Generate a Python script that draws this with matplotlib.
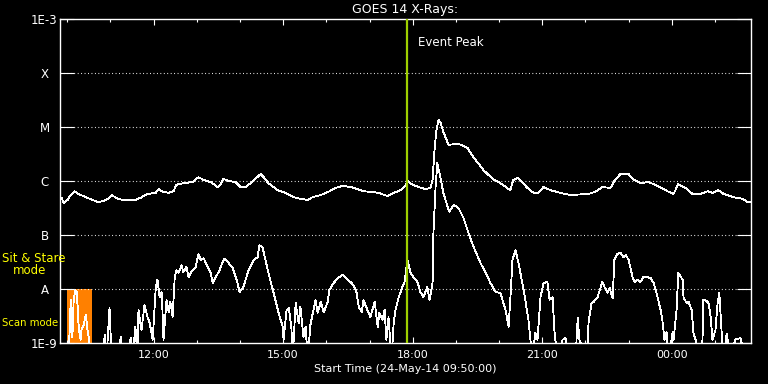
#!/usr/bin/env python3

import matplotlib
matplotlib.use("Agg")
import matplotlib.pyplot as plt
import numpy as np

# times in hours after 00:00 on 24-May-14 (values > 24 are 25-May)
long_t = [9.87, 9.92, 10.01, 10.08, 10.17, 10.26, 10.43, 10.59, 10.70, 10.84, 10.94, 11.03, 11.17, 11.28,
          11.58, 11.70, 11.86, 12.05, 12.12, 12.21, 12.35, 12.46, 12.53, 12.69, 12.90, 13.04, 13.16, 13.32,
          13.48, 13.55, 13.62, 13.74, 13.90, 14.01, 14.13, 14.25, 14.36, 14.48, 14.55, 14.66, 14.87, 15.06,
          15.24, 15.40, 15.57, 15.68, 15.87, 16.05, 16.21, 16.38, 16.56, 16.72, 16.86, 17.02, 17.21, 17.42,
          17.56, 17.72, 17.83, 17.88, 18.00, 18.13, 18.30, 18.41, 18.46, 18.51, 18.55, 18.60, 18.64, 18.71,
          18.83, 19.06, 19.27, 19.41, 19.64, 19.85, 20.03, 20.26, 20.33, 20.43, 20.50, 20.66, 20.80, 20.91,
          21.03, 21.19, 21.42, 21.65, 22.07, 22.23, 22.39, 22.58, 22.67, 22.81, 23.00, 23.09, 23.27, 23.46,
          23.67, 23.90, 24.04, 24.15, 24.32, 24.48, 24.66, 24.83, 24.94, 25.08, 25.20, 25.43, 25.64, 25.75, 25.82]
# log10 of flux (W/m^2), 1-8 A channel
long_log = [-6.31, -6.41, -6.35, -6.26, -6.19, -6.24, -6.30, -6.35, -6.39, -6.37, -6.33, -6.26, -6.33, -6.35,
            -6.35, -6.31, -6.24, -6.22, -6.15, -6.20, -6.22, -6.19, -6.07, -6.04, -6.02, -5.93, -5.98, -6.02,
            -6.11, -6.07, -5.96, -6.00, -6.02, -6.11, -6.11, -6.04, -5.96, -5.87, -5.93, -6.04, -6.17, -6.22,
            -6.30, -6.33, -6.35, -6.30, -6.26, -6.20, -6.13, -6.09, -6.11, -6.15, -6.19, -6.20, -6.22, -6.28,
            -6.22, -6.17, -6.09, -6.00, -6.07, -6.11, -6.15, -6.13, -5.98, -5.37, -5.06, -4.87, -4.91, -5.09,
            -5.33, -5.31, -5.39, -5.56, -5.80, -5.96, -6.04, -6.17, -5.98, -5.94, -6.00, -6.13, -6.22, -6.22,
            -6.11, -6.17, -6.22, -6.26, -6.24, -6.20, -6.11, -6.13, -6.00, -5.87, -5.87, -5.96, -6.04, -6.02,
            -6.09, -6.19, -6.24, -6.06, -6.13, -6.24, -6.24, -6.19, -6.22, -6.17, -6.24, -6.30, -6.33, -6.39, -6.39]

# 0.5-4 A channel, -9.3 means below the plot floor
short_t = [9.85, 10.01, 10.06, 10.08, 10.10, 10.12, 10.15, 10.17, 10.19, 10.22, 10.24, 10.26, 10.29, 10.31,
           10.33, 10.38, 10.43, 10.45, 10.47, 10.50, 10.54, 10.82, 10.87, 10.91, 10.98, 11.03, 11.17, 11.24,
           11.31, 11.40, 11.47, 11.51, 11.58, 11.63, 11.65, 11.72, 11.79, 11.86, 11.91, 11.98, 12.05, 12.09,
           12.14, 12.19, 12.23, 12.30, 12.35, 12.39, 12.44, 12.49, 12.53, 12.58, 12.65, 12.69, 12.76, 12.81,
           12.90, 12.97, 13.04, 13.09, 13.16, 13.25, 13.32, 13.37, 13.44, 13.53, 13.60, 13.64, 13.74, 13.83,
           13.94, 13.99, 14.08, 14.20, 14.32, 14.41, 14.45, 14.52, 14.59, 14.66, 14.75, 14.82, 14.89, 14.99,
           15.01, 15.08, 15.13, 15.19, 15.22, 15.29, 15.36, 15.40, 15.47, 15.52, 15.57, 15.63, 15.70, 15.75,
           15.80, 15.87, 15.94, 16.03, 16.07, 16.17, 16.26, 16.38, 16.49, 16.56, 16.63, 16.70, 16.75, 16.82,
           16.86, 16.95, 17.02, 17.12, 17.19, 17.23, 17.30, 17.35, 17.39, 17.44, 17.51, 17.56, 17.60, 17.67,
           17.76, 17.81, 17.88, 17.95, 18.02, 18.11, 18.18, 18.25, 18.34, 18.39, 18.46, 18.48, 18.53, 18.57,
           18.64, 18.71, 18.81, 18.85, 18.95, 19.06, 19.18, 19.29, 19.41, 19.57, 19.69, 19.80, 19.92, 20.03,
           20.15, 20.22, 20.26, 20.31, 20.38, 20.45, 20.57, 20.68, 20.77, 20.84, 20.89, 20.96, 21.03, 21.12,
           21.17, 21.24, 21.28, 21.35, 21.47, 21.54, 21.61, 21.77, 21.82, 21.86, 22.05, 22.07, 22.14, 22.19,
           22.28, 22.35, 22.39, 22.44, 22.51, 22.56, 22.63, 22.67, 22.74, 22.81, 22.88, 22.93, 23.00, 23.09,
           23.14, 23.20, 23.27, 23.34, 23.44, 23.51, 23.58, 23.67, 23.74, 23.78, 23.83, 23.88, 23.92, 24.02,
           24.04, 24.11, 24.15, 24.25, 24.27, 24.34, 24.39, 24.46, 24.50, 24.55, 24.62, 24.71, 24.73, 24.80,
           24.85, 24.90, 24.94, 25.01, 25.06, 25.10, 25.15, 25.20, 25.27, 25.36, 25.47, 25.59, 25.70, 25.82]
short_log = [-9.3, -9.3, -8.76, -8.20, -8.76, -8.89, -8.20, -8.11, -8.02, -8.06, -8.30, -8.63, -8.85, -8.94,
             -8.76, -8.67, -8.48, -8.61, -8.76, -8.91, -9.3, -9.3, -8.85, -9.3, -8.35, -9.3, -9.3, -8.89,
             -9.3, -9.3, -8.91, -9.3, -8.70, -9.3, -8.39, -8.76, -8.30, -8.52, -8.63, -8.94, -7.98, -7.83,
             -8.15, -8.06, -8.94, -8.20, -8.43, -8.24, -8.52, -7.78, -7.65, -7.70, -7.56, -7.69, -7.59, -7.78,
             -7.65, -7.61, -7.35, -7.46, -7.43, -7.59, -7.70, -7.89, -7.78, -7.65, -7.50, -7.44, -7.52, -7.61,
             -7.87, -8.06, -7.96, -7.65, -7.46, -7.41, -7.19, -7.22, -7.46, -7.70, -7.98, -8.20, -8.43, -8.70,
             -8.94, -8.39, -8.35, -8.70, -9.3, -8.26, -8.63, -8.33, -8.89, -8.70, -9.3, -8.67, -8.39, -8.20,
             -8.44, -8.24, -8.43, -8.24, -8.02, -7.89, -7.80, -7.74, -7.83, -7.87, -7.93, -8.06, -8.33, -8.43,
             -8.20, -8.39, -8.52, -8.24, -8.70, -8.44, -8.57, -8.39, -8.94, -8.52, -9.3, -8.63, -8.39, -8.17,
             -7.96, -7.87, -7.46, -7.70, -7.78, -7.87, -8.06, -8.15, -7.96, -8.20, -7.89, -6.96, -6.11, -5.67,
             -5.93, -6.22, -6.48, -6.57, -6.44, -6.50, -6.69, -6.96, -7.22, -7.52, -7.70, -7.89, -8.06, -8.07,
             -8.39, -8.70, -8.20, -7.46, -7.28, -7.52, -8.02, -8.57, -9.3, -8.81, -8.94, -8.15, -7.89, -7.87,
             -8.20, -8.15, -8.76, -9.3, -8.94, -8.91, -9.3, -9.3, -8.54, -8.94, -9.3, -8.63, -8.26, -8.24,
             -8.15, -7.98, -7.87, -7.96, -8.07, -7.98, -8.17, -7.46, -7.35, -7.33, -7.41, -7.37, -7.46, -7.78,
             -7.87, -7.83, -7.87, -7.78, -7.78, -7.80, -7.89, -8.15, -8.39, -8.57, -8.94, -8.80, -9.3, -8.80,
             -8.94, -8.39, -7.70, -7.83, -8.15, -8.26, -8.24, -8.39, -8.81, -8.94, -9.3, -8.94, -8.20, -8.22,
             -8.26, -8.52, -8.94, -8.76, -8.26, -8.07, -8.76, -9.3, -8.83, -9.3, -8.93, -8.91, -9.3, -9.3]

t_start = 9 + 50 / 60.0
t_end = t_start + 16
event_peak = 17 + 52 / 60.0
scan_start = 10.0
scan_end = 10 + 34 / 60.0

class_levels = [1e-3, 1e-4, 1e-5, 1e-6, 1e-7, 1e-8, 1e-9]
class_labels = ['1E-3', 'X', 'M', 'C', 'B', 'A', '1E-9']
time_ticks = [12, 15, 18, 21, 24]
time_labels = ['12:00', '15:00', '18:00', '21:00', '00:00']

plt.rcParams['font.family'] = 'DejaVu Sans'
plt.rcParams['font.size'] = 8

fig = plt.figure(figsize=(7.68, 3.84), dpi=100, facecolor='black')
ax = fig.add_axes([60 / 768, 41 / 384, 691 / 768, 324 / 384], facecolor='black')

# scan mode box
ax.fill_between([scan_start, scan_end], 1e-9, 1e-8, color='#ff8000', linewidth=0, zorder=1)

for lev in class_levels[1:-1]:
    ax.axhline(lev, color='white', linewidth=0.8, dashes=(0.8, 2.3), zorder=2)

ax.plot(long_t, 10 ** np.array(long_log), color='white', linewidth=0.6, antialiased=False, zorder=3)
ax.plot(short_t, 10 ** np.array(short_log), color='white', linewidth=0.6, antialiased=False, zorder=3)

ax.axvline(event_peak, color='#9fd000', linewidth=1.6, zorder=4)
ax.text(event_peak + 0.25, 10 ** -3.44, 'Event Peak', color='white', va='center', ha='left', fontsize=8.5)

ax.set_yscale('log')
ax.set_ylim(1e-9, 1e-3)
ax.set_xlim(t_start, t_end)

ax.set_yticks(class_levels)
ax.set_yticklabels(class_labels)
ax.yaxis.set_minor_locator(matplotlib.ticker.NullLocator())
ax.set_xticks(time_ticks)
ax.set_xticklabels(time_labels)
ax.set_xticks(np.arange(10, 26), minor=True)

ax.tick_params(axis='y', which='major', direction='in', length=10, width=0.8, left=True, right=True,
               colors='white', pad=11.2, labelsize=8.5)
ax.tick_params(axis='x', which='major', direction='in', length=4.3, width=0.8, top=True, bottom=True,
               colors='white', pad=5)
ax.tick_params(axis='x', which='minor', direction='in', length=2.2, width=0.8, top=True, bottom=True,
               colors='white')
for lbl in ax.get_yticklabels():
    lbl.set_ha('center')

for sp in ax.spines.values():
    sp.set_color('white')
    sp.set_linewidth(1.0)

fig.text(405.5 / 768, 1 - 10 / 384, 'GOES 14 X-Rays:', color='white', ha='center', va='center', fontsize=9)
fig.text(405.5 / 768, 1 - 369.5 / 384, 'Start Time (24-May-14 09:50:00)', color='white', ha='center', va='center')

fig.text(2 / 768, 1 - 259 / 384, 'Sit & Stare', color='yellow', ha='left', va='center', fontsize=8.5)
fig.text(13 / 768, 1 - 271 / 384, 'mode', color='yellow', ha='left', va='center', fontsize=8.5)
fig.text(2 / 768, 1 - 323 / 384, 'Scan mode', color='yellow', ha='left', va='center', fontsize=7.3)

fig.savefig('out.png', dpi=100, facecolor='black')
